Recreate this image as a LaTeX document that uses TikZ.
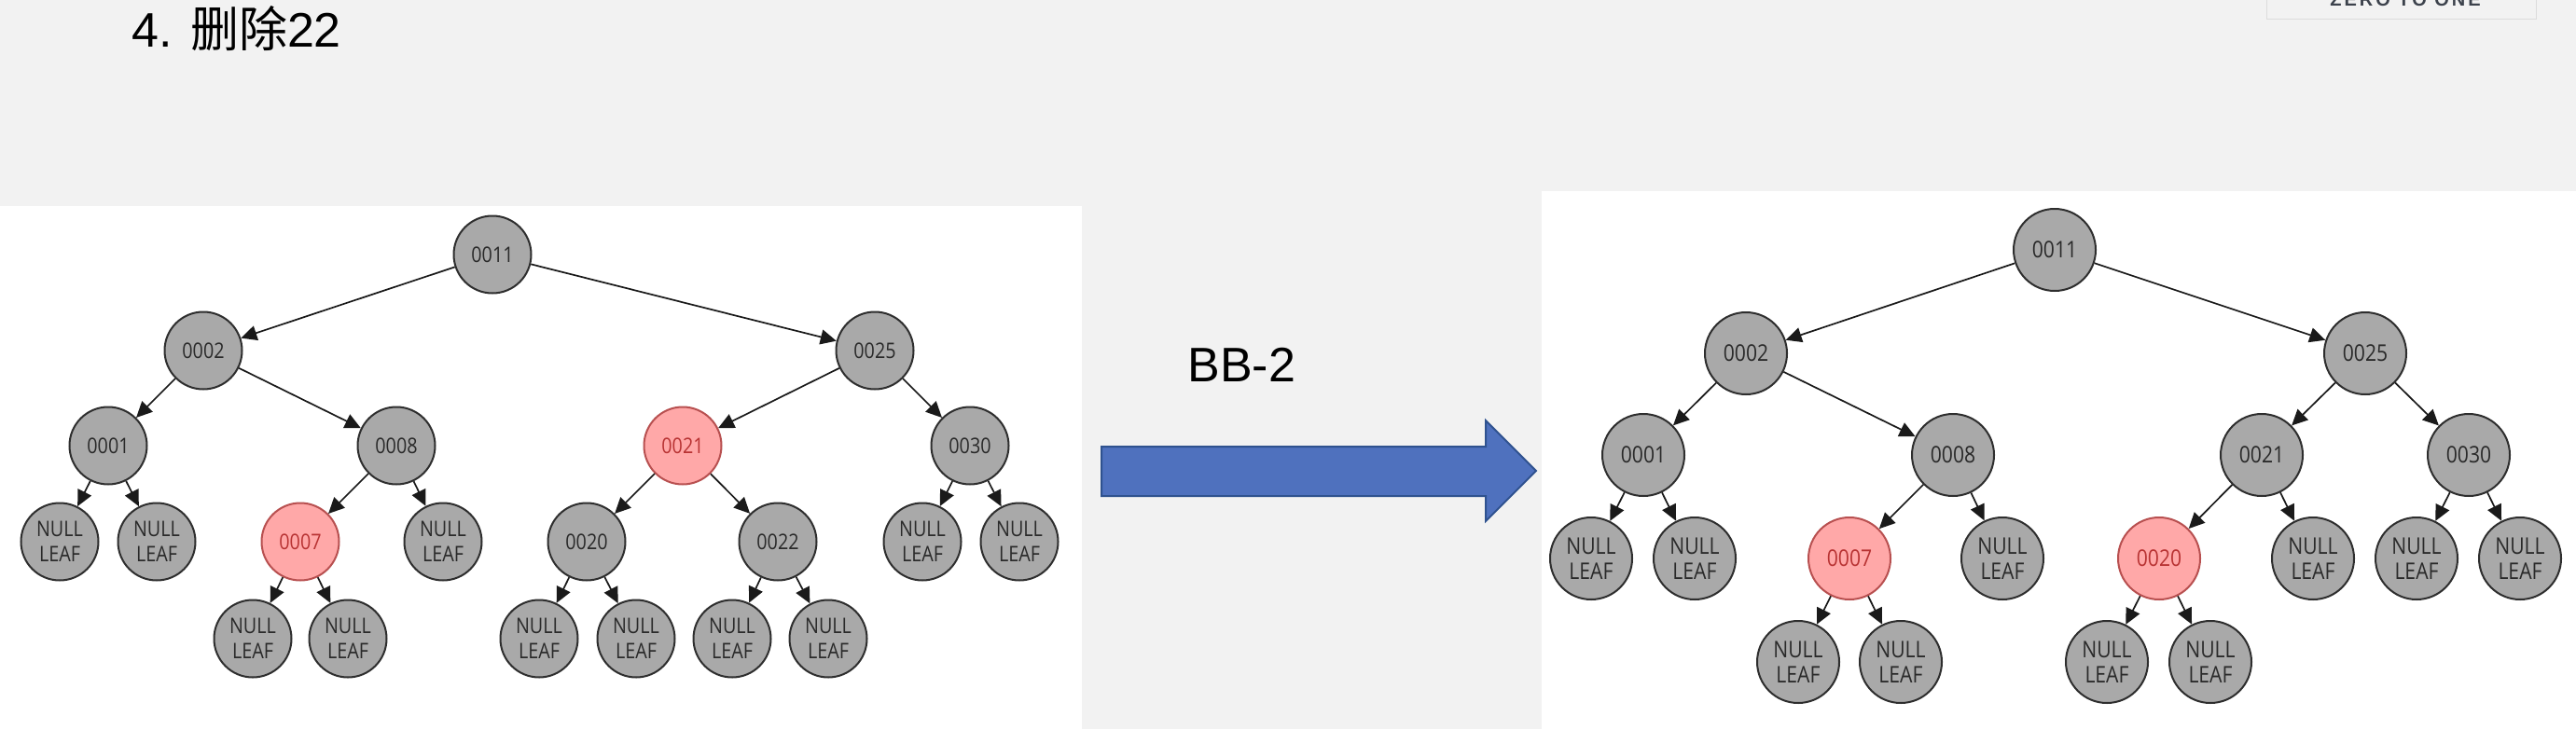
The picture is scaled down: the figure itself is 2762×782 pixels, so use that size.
\documentclass[tikz,border=0pt]{standalone}
\usepackage{fontspec}
\setmainfont{Liberation Sans}
\newfontfamily\nodefont{Open Sans}[FakeStretch=0.86]
\newfontfamily\cjk{Noto Sans CJK SC}
\newfontfamily\logofont{Liberation Sans}[LetterSpace=15]
\usetikzlibrary{arrows.meta}
\definecolor{bgcol}{HTML}{F2F2F2}
\definecolor{nodegrey}{HTML}{A9A9A9}
\definecolor{nodeborder}{HTML}{2E2E2E}
\definecolor{nodetext}{HTML}{2A2A2A}
\definecolor{nodered}{HTML}{FFA8A8}
\definecolor{redborder}{HTML}{B85050}
\definecolor{redtext}{HTML}{B83333}
\definecolor{edgecol}{HTML}{1A1A1A}
\definecolor{arrowfill}{HTML}{4F71BE}
\definecolor{arrowline}{HTML}{2F528F}
\definecolor{logocol}{HTML}{3C424C}
\definecolor{logoline}{HTML}{DCDCDC}
\begin{document}
\begin{tikzpicture}[x=0.5pt,y=-0.5pt,
  bn/.style={circle, draw=nodeborder, line width=1pt, fill=nodegrey, inner sep=0pt,
    minimum size=41.5pt, text=nodetext, align=center,
    font=\nodefont\fontsize{11.5pt}{13.5pt}\selectfont},
  rn/.style={bn, fill=nodered, draw=redborder, text=redtext},
  bigger/.style={minimum size=44pt, font=\nodefont\fontsize{12.3pt}{13.5pt}\selectfont},
  ed/.style={draw=edgecol, line width=0.85pt, -{Triangle[length=8.5pt,width=8pt]}},
  plain/.style={inner sep=0pt, anchor=base west},
]
\useasboundingbox (0,0) rectangle (2762,782);
\begin{scope}
\clip (0,0) rectangle (2762,782);
\fill[bgcol] (0,0) rectangle (2762,782);
% panels
\fill[white] (0,221) rectangle (1160,782);
\fill[white] (1653,205) rectangle (2762,782);
% logo box
\draw[logoline, fill=bgcol, line width=0.5pt] (2430,-10) rectangle (2719,20);
\node[inner sep=0pt, anchor=base, text=logocol,
  font=\logofont\bfseries\fontsize{10pt}{10pt}\selectfont] (logo) at (2579,6) {ZERO TO ONE};

% title
\node[plain, font=\fontsize{26pt}{26pt}\selectfont] (title) at (141,50) {4. {\cjk 删除}22};

% big arrow
\draw[fill=arrowfill, draw=arrowline, line width=1pt]
  (1181,479) -- (1593,479) -- (1593,451) -- (1647,505) -- (1593,559) -- (1593,532) -- (1181,532) -- cycle;
\node[plain, font=\fontsize{26pt}{26pt}\selectfont] (lbl) at (1273,409) {BB-2};

% ---------- left tree ----------
\node[bn] (L11) at (528,273) {0011};
\node[bn] (L02) at (218,376) {0002};
\node[bn] (L25) at (938,376) {0025};
\node[bn] (L01) at (116,478) {0001};
\node[bn] (L08) at (425,478) {0008};
\node[rn] (L21) at (732,478) {0021};
\node[bn] (L30) at (1040,478) {0030};
\node[bn] (L01a) at (64,581) {NULL\\LEAF};
\node[bn] (L01b) at (168,581) {NULL\\LEAF};
\node[rn] (L07) at (322,581) {0007};
\node[bn] (L08b) at (475,581) {NULL\\LEAF};
\node[bn] (L20) at (629,581) {0020};
\node[bn] (L22) at (834,581) {0022};
\node[bn] (L30a) at (989,581) {NULL\\LEAF};
\node[bn] (L30b) at (1093,581) {NULL\\LEAF};
\node[bn] (L07a) at (271,685) {NULL\\LEAF};
\node[bn] (L07b) at (373,685) {NULL\\LEAF};
\node[bn] (L20a) at (578,685) {NULL\\LEAF};
\node[bn] (L20b) at (682,685) {NULL\\LEAF};
\node[bn] (L22a) at (785,685) {NULL\\LEAF};
\node[bn] (L22b) at (888,685) {NULL\\LEAF};

\foreach \a/\b in {L11/L02, L11/L25, L02/L01, L02/L08, L25/L21, L25/L30,
  L01/L01a, L01/L01b, L08/L07, L08/L08b, L21/L20, L21/L22, L30/L30a, L30/L30b,
  L07/L07a, L07/L07b, L20/L20a, L20/L20b, L22/L22a, L22/L22b}
  \draw[ed] (\a) -- (\b);

% ---------- right tree ----------
\node[bn,bigger] (R11) at (2203,268) {0011};
\node[bn,bigger] (R02) at (1872,379) {0002};
\node[bn,bigger] (R25) at (2536,379) {0025};
\node[bn,bigger] (R01) at (1762,488) {0001};
\node[bn,bigger] (R08) at (2094,488) {0008};
\node[bn,bigger] (R21) at (2425,488) {0021};
\node[bn,bigger] (R30) at (2647,488) {0030};
\node[bn,bigger] (R01a) at (1706,599) {NULL\\LEAF};
\node[bn,bigger] (R01b) at (1817,599) {NULL\\LEAF};
\node[rn,bigger] (R07) at (1983,599) {0007};
\node[bn,bigger] (R08b) at (2147,599) {NULL\\LEAF};
\node[rn,bigger] (R20) at (2315,599) {0020};
\node[bn,bigger] (R21b) at (2480,599) {NULL\\LEAF};
\node[bn,bigger] (R30a) at (2591,599) {NULL\\LEAF};
\node[bn,bigger] (R30b) at (2702,599) {NULL\\LEAF};
\node[bn,bigger] (R07a) at (1928,710) {NULL\\LEAF};
\node[bn,bigger] (R07b) at (2038,710) {NULL\\LEAF};
\node[bn,bigger] (R20a) at (2259,710) {NULL\\LEAF};
\node[bn,bigger] (R20b) at (2370,710) {NULL\\LEAF};

\foreach \a/\b in {R11/R02, R11/R25, R02/R01, R02/R08, R25/R21, R25/R30,
  R01/R01a, R01/R01b, R08/R07, R08/R08b, R21/R20, R21/R21b, R30/R30a, R30/R30b,
  R07/R07a, R07/R07b, R20/R20a, R20/R20b}
  \draw[ed] (\a) -- (\b);
\end{scope}
\end{tikzpicture}
\end{document}
